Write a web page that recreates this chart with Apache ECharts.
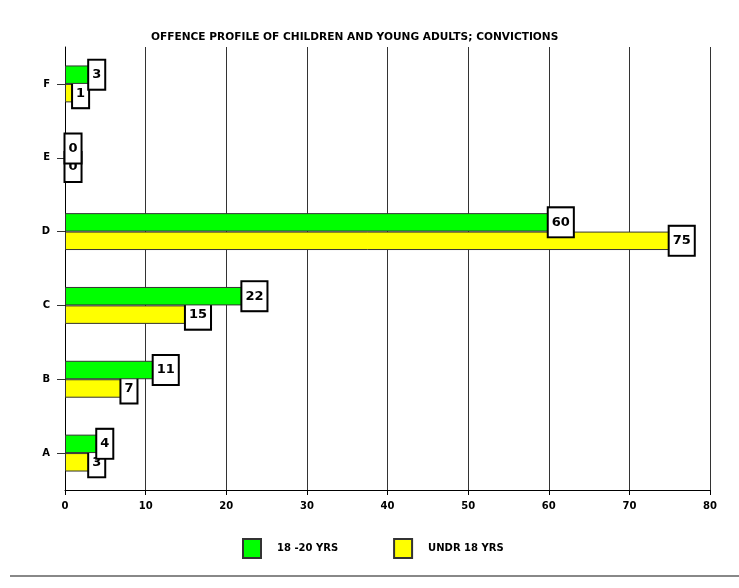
<!DOCTYPE html>
<html><head><meta charset="utf-8">
<script src="https://cdn.jsdelivr.net/npm/echarts@6/dist/echarts.min.js"></script>
<style>html,body{margin:0;padding:0;background:#fff;}#c{width:739px;height:588px;}</style>
</head><body><div id="c"></div>
<script>
var categories = ['A', 'B', 'C', 'D', 'E', 'F'];
var xTicks = [0, 10, 20, 30, 40, 50, 60, 70, 80];
var seriesNames = ['18 -20 YRS', 'UNDR 18 YRS'];
var adults18to20 = [4, 11, 22, 60, 0, 3];
var under18 = [3, 7, 15, 75, 0, 1];
var title = 'OFFENCE PROFILE OF CHILDREN AND YOUNG ADULTS; CONVICTIONS';

var font = '"DejaVu Sans", Arial, sans-serif';
var chart = echarts.init(document.getElementById('c'), null, {renderer: 'canvas'});
function labelStyle() {
  return {
    show: true, position: 'right', distance: 0,
    color: '#000', fontFamily: font, fontWeight: 'bold', fontSize: 13, lineHeight: 16,
    backgroundColor: '#fff', borderColor: '#000', borderWidth: 2, padding: [6, 3, 6, 3]
  };
}
chart.setOption({
  animation: false,
  title: {text: title, left: 151, top: 32, padding: [0, 0, 0, 0],
    textStyle: {fontFamily: font, fontWeight: 'bold', fontSize: 10.6, color: '#000'}},
  grid: {left: 65, right: 29, top: 47, bottom: 98, containLabel: false},
  legend: {
    data: seriesNames, bottom: 24, left: 237, itemGap: 55, itemWidth: 18, itemHeight: 19,
    icon: 'rect',
    textStyle: {fontFamily: font, fontWeight: 'bold', fontSize: 10, color: '#000', padding: [0, 0, 0, 11]}
  },
  xAxis: {
    type: 'value', min: xTicks[0], max: xTicks[xTicks.length - 1], interval: 10,
    axisLine: {show: true, lineStyle: {color: '#000', width: 1}},
    axisTick: {show: true, length: 5, lineStyle: {color: '#000'}},
    axisLabel: {fontFamily: font, fontWeight: 'bold', fontSize: 10, color: '#000', margin: 11},
    splitLine: {show: true, lineStyle: {color: '#333', width: 1}}
  },
  yAxis: {
    type: 'category', data: categories,
    axisLine: {show: true, lineStyle: {color: '#000', width: 1}},
    axisTick: {show: true, alignWithLabel: true, length: 8, lineStyle: {color: '#333'}},
    axisLabel: {fontFamily: font, fontWeight: 'bold', fontSize: 10, color: '#000', margin: 15}
  },
  series: [
    {name: seriesNames[0], type: 'bar', data: adults18to20, barGap: '0%', barCategoryGap: '50%',
      itemStyle: {color: '#00ff00', borderColor: '#333', borderWidth: 1},
      label: labelStyle(), z: 3},
    {name: seriesNames[1], type: 'bar', data: under18, barGap: '0%', barCategoryGap: '50%',
      itemStyle: {color: '#ffff00', borderColor: '#333', borderWidth: 1},
      label: labelStyle(), z: 2}
  ],
  graphic: [{type: 'line', shape: {x1: 10, y1: 576, x2: 739, y2: 576},
    style: {stroke: '#888', lineWidth: 2}}]
});
</script></body></html>
